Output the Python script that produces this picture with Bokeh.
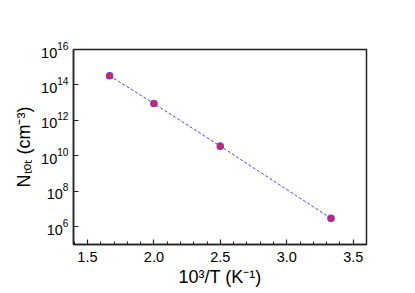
from bokeh.plotting import figure
from bokeh.models import FixedTicker, LogTickFormatter, Range1d, PrintfTickFormatter
from bokeh.embed import file_html
from bokeh.resources import INLINE

inv_T = [1.667, 2.0, 2.5, 3.333]
n_tot = [3.3e14, 9.0e12, 3.5e10, 3.0e6]
x_ticks = [1.5, 2.0, 2.5, 3.0, 3.5]
y_ticks = [1e6, 1e8, 1e10, 1e12, 1e14, 1e16]

p = figure(output_backend="svg", toolbar_location=None, y_axis_type="log",
           frame_width=293, frame_height=195,
           min_border_left=73, min_border_top=49, min_border_right=33, min_border_bottom=33,
           x_range=Range1d(1.395, 3.6), y_range=Range1d(1e5, 1e16))
p.grid.visible = False
p.outline_line_color = "#222222"
p.outline_line_width = 1.5
p.background_fill_color = "white"
p.border_fill_color = "white"

p.line(inv_T, n_tot, line_color="#4444ee", line_width=1, line_dash="3 2")
p.scatter(inv_T, n_tot, size=6.5, fill_color="#d8234a", line_color="#6a40e8", line_width=1.2)

for ax in (p.xaxis, p.yaxis):
    ax.axis_line_color = "#222222"
    ax.axis_line_width = 1.5
    ax.major_tick_in = 5
    ax.major_tick_out = 0
    ax.major_tick_line_color = "#222222"
    ax.major_tick_line_width = 1.2
    ax.major_label_text_font = "Liberation Sans"
    ax.major_label_text_font_size = "14.5px"
    ax.major_label_text_color = "black"
    ax.axis_label_text_font = "Liberation Sans"
    ax.axis_label_text_font_size = "18px"
    ax.axis_label_text_font_style = "normal"
    ax.axis_label_text_color = "black"

p.xaxis.ticker = FixedTicker(ticks=x_ticks, minor_ticks=[1.4 + 0.1 * i for i in range(22)])
p.xaxis.formatter = PrintfTickFormatter(format="%.1f")
p.xaxis.minor_tick_in = 3
p.xaxis.minor_tick_out = 0
p.xaxis.minor_tick_line_color = "#222222"
p.xaxis.major_label_standoff = 7
p.xaxis.axis_label = "10³/T (K⁻¹)"
p.xaxis.axis_label_standoff = 2

p.yaxis.ticker = FixedTicker(ticks=y_ticks, minor_ticks=[])
p.yaxis.formatter = LogTickFormatter()
p.yaxis.minor_tick_line_color = None
p.yaxis.major_label_standoff = 5
p.yaxis.axis_label = "Nₜₒₜ (cm⁻³)"
p.yaxis.axis_label_standoff = 4

open("out.html", "w").write(file_html(p, INLINE))
